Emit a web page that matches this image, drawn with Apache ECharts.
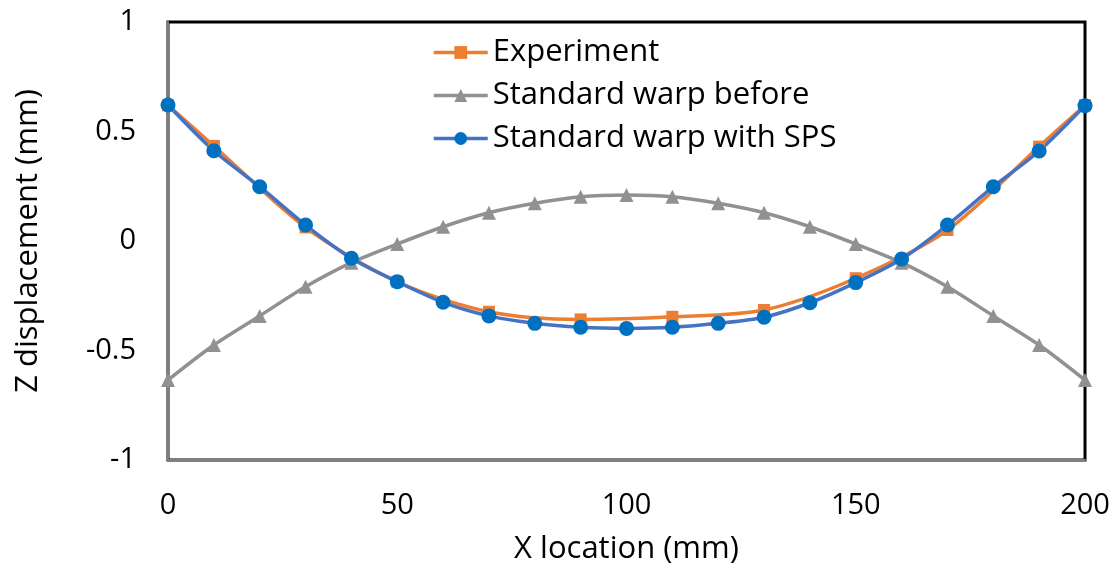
<!DOCTYPE html>
<html>
<head>
<meta charset="utf-8">
<script src="https://cdn.jsdelivr.net/npm/echarts@6/dist/echarts.min.js"></script>
<style>
  html, body { margin: 0; padding: 0; background: #fff; }
  #chart { width: 1115px; height: 570px; }
</style>
</head>
<body>
<div id="chart"></div>
<script>
// x positions (mm)
const xAll = [0, 10, 20, 30, 40, 50, 60, 70, 80, 90, 100, 110, 120, 130, 140, 150, 160, 170, 180, 190, 200]
const xExp = [0, 10, 30, 50, 70, 90, 110, 130, 150, 170, 190, 200]

// Z displacement (mm)
const experiment = [0.62, 0.434, 0.062, -0.186, -0.323, -0.358, -0.346, -0.315, -0.170, 0.050, 0.431, 0.62]
const warpBefore = [-0.635, -0.475, -0.342, -0.209, -0.099, -0.014, 0.065, 0.129, 0.172, 0.202, 0.210,
  0.202, 0.172, 0.129, 0.065, -0.014, -0.099, -0.209, -0.342, -0.475, -0.635]
const warpSPS = [0.621, 0.412, 0.248, 0.073, -0.079, -0.186, -0.280, -0.342, -0.376, -0.394, -0.399,
  -0.394, -0.376, -0.348, -0.282, -0.190, -0.082, 0.073, 0.248, 0.411, 0.618]

const xTicks = [0, 50, 100, 150, 200]
const yTicks = [-1, -0.5, 0, 0.5, 1]

const pairs = (xs, ys) => xs.map((x, i) => [x, ys[i]])

const font = '"Open Sans", "Noto Sans", sans-serif'

const chart = echarts.init(document.getElementById('chart'))
chart.setOption({
  backgroundColor: '#fff',
  animation: false,
  textStyle: { fontFamily: font },
  grid: {
    left: 168, right: 30, top: 22, bottom: 110,
    show: true, borderColor: '#000', borderWidth: 3
  },
  legend: {
    orient: 'vertical',
    left: 427, top: 32,
    itemWidth: 54, itemHeight: 16, itemGap: 12,
    lineStyle: { width: 3.5 },
    textStyle: { fontSize: 31, lineHeight: 30, color: '#000', fontFamily: font },
    data: ['Experiment', 'Standard warp before', 'Standard warp with SPS']
  },
  xAxis: {
    type: 'value',
    min: xTicks[0], max: xTicks[xTicks.length - 1], interval: 50,
    name: 'X location (mm)', nameLocation: 'middle', nameGap: 74,
    nameTextStyle: { fontSize: 31, color: '#000', fontFamily: font },
    axisLine: { show: true, onZero: false, lineStyle: { color: '#7f7f7f', width: 2 } },
    axisTick: { show: false },
    splitLine: { show: false },
    axisLabel: { fontSize: 29, color: '#000', margin: 31, fontFamily: font }
  },
  yAxis: {
    type: 'value',
    min: yTicks[0], max: yTicks[yTicks.length - 1], interval: 0.5,
    name: 'Z displacement (mm)', nameLocation: 'middle', nameGap: 124,
    nameTextStyle: { fontSize: 31, color: '#000', fontFamily: font },
    axisLine: { show: true, onZero: false, lineStyle: { color: '#7f7f7f', width: 2 } },
    axisTick: { show: false },
    splitLine: { show: false },
    axisLabel: { fontSize: 29, color: '#000', margin: 32, fontFamily: font }
  },
  series: [
    {
      name: 'Experiment',
      type: 'line',
      smooth: 0.3,
      data: pairs(xExp, experiment),
      symbol: 'rect', symbolSize: 12,
      lineStyle: { color: '#ED7D31', width: 3.5 },
      itemStyle: { color: '#ED7D31' }
    },
    {
      name: 'Standard warp before',
      type: 'line',
      smooth: 0.3,
      data: pairs(xAll, warpBefore),
      symbol: 'triangle', symbolSize: 14,
      lineStyle: { color: '#919191', width: 3.5 },
      itemStyle: { color: '#919191' }
    },
    {
      name: 'Standard warp with SPS',
      type: 'line',
      smooth: 0.3,
      data: pairs(xAll, warpSPS),
      symbol: 'circle', symbolSize: 15,
      lineStyle: { color: '#4472C4', width: 3.5 },
      itemStyle: { color: '#0070C0' }
    }
  ]
})
</script>
</body>
</html>
